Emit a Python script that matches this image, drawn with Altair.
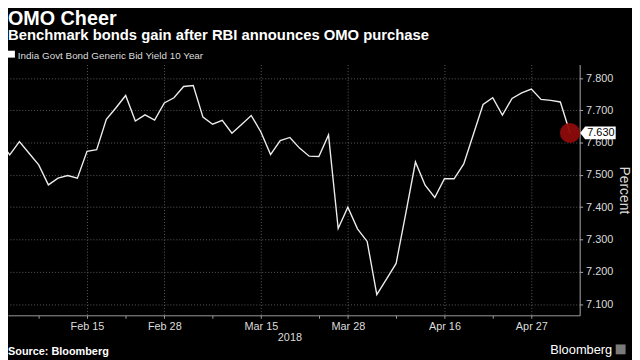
import json
import altair as alt
import pandas as pd

# ---- data ----
yields = [7.603, 7.562, 7.603, 7.567, 7.531, 7.469, 7.490, 7.498, 7.490, 7.573,
          7.578, 7.672, 7.708, 7.746, 7.667, 7.686, 7.670, 7.723, 7.739, 7.774,
          7.777, 7.679, 7.657, 7.669, 7.629, 7.656, 7.684, 7.633, 7.563, 7.606,
          7.616, 7.583, 7.558, 7.557, 7.624, 7.334, 7.400, 7.333, 7.294, 7.129,
          7.177, 7.226, 7.381, 7.540, 7.468, 7.430, 7.488, 7.488, 7.534, 7.626,
          7.718, 7.739, 7.685, 7.737, 7.754, 7.766, 7.734, 7.731, 7.726, 7.630]
trading_day = list(range(len(yields)))
major_ticks = [9, 17, 27, 36, 46, 55]
major_labels = ["Feb 15", "Feb 28", "Mar 15", "Mar 28", "Apr 16", "Apr 27"]
minor_ticks = [4, 13, 22, 33, 41, 51]
y_ticks = [7.1, 7.2, 7.3, 7.4, 7.5, 7.6, 7.7, 7.8]

title_text = "OMO Cheer"
subtitle_text = "Benchmark bonds gain after RBI announces OMO purchase"
legend_text = "India Govt Bond Generic Bid Yield 10 Year"
year_text = "2018"
source_text = "Source: Bloomberg"
brand_text = "Bloomberg"

PW, PH = 579, 254
FONT = "Liberation Sans"
GRID = "#5c5c5c"
AX = "#9a9a9a"
LAB = "#dcdcdc"

df = pd.DataFrame({"day": trading_day, "y": yields})
last = df.tail(1)

x_scale = alt.Scale(domain=[0.82, 60.0], nice=False, zero=False)
y_scale = alt.Scale(domain=[7.0651, 7.8419], nice=False, zero=False)

major_js = json.dumps(major_ticks)
labels_js = json.dumps(major_labels)
label_expr = f"{labels_js}[indexof({major_js}, datum.value)] || ''"
is_major = f"indexof({major_js}, datum.value) >= 0"

x_axis = alt.Axis(
    values=sorted(major_ticks + minor_ticks), labelExpr=label_expr, title=None,
    grid=True, gridOpacity={"condition": {"test": is_major, "value": 1}, "value": 0},
    gridColor=GRID, gridDash=[1, 2], gridWidth=1,
    domainColor=AX, tickColor=AX, tickSize=3,
    labelColor=LAB, labelFont=FONT, labelFontSize=11, labelPadding=2,
    labelFlush=False, labelOverlap=False)

y_axis = alt.Axis(
    orient="right", values=y_ticks, format=".3f", tickCount=8,
    grid=True, gridColor=GRID, gridDash=[1, 2], gridWidth=1,
    domainColor="#aaaaaa", tickColor="#aaaaaa", tickSize=3,
    labelColor=LAB, labelFont=FONT, labelFontSize=11, labelPadding=3,
    labelOverlap=False, labelFlush=False,
    title="Percent", titleAngle=90, titleFont=FONT, titleFontSize=14,
    titleFontWeight="normal", titleColor=LAB, titleX=44, titleY=PH / 2,
    titleBaseline="middle", titleAlign="center")

X = alt.X("day:Q", scale=x_scale, axis=x_axis)
Y = alt.Y("y:Q", scale=y_scale, axis=y_axis)

line = alt.Chart(df).mark_line(color="#ececec", strokeWidth=1.4, clip=True).encode(x=X, y=Y)

dot = alt.Chart(last).mark_circle(size=415, color="#8d0b0b", opacity=0.95).encode(x=X, y=Y)

BOX = "M -1 0 L -0.72 -0.36 L 1 -0.36 L 1 0.36 L -0.72 0.36 Z"
box = alt.Chart(last).mark_point(shape=BOX, filled=True, fill="white", strokeWidth=0,
                                 opacity=1, size=36 * 36).encode(
    x=alt.value(PW + 18.5), y=Y)
box_text = alt.Chart(last).mark_text(color="black", font=FONT, fontSize=11,
                                     align="center", baseline="middle").encode(
    x=alt.value(PW + 21.5), y=Y, text=alt.Text("y:Q", format=".3f"))


def note(text, x, y, size, weight="normal", align="left", color="white"):
    return alt.Chart(pd.DataFrame({"t": [text]})).mark_text(
        font=FONT, fontSize=size, fontWeight=weight, align=align,
        baseline="alphabetic", color=color).encode(
        x=alt.value(x), y=alt.value(y), text="t:N")


title = note(title_text, 0, -40, 20, "bold")
subtitle = note(subtitle_text, 0, -24.5, 15, "bold")
legend_sq = alt.Chart(pd.DataFrame({"t": [legend_text]})).mark_square(
    size=49, color="white", opacity=1).encode(x=alt.value(3.5), y=alt.value(-10.5))
legend_lab = note(legend_text, 10, -6, 10, color=LAB)
year = note(year_text, 285.5, 280, 11, align="center", color=LAB)
source = note(source_text, 0, 294, 11, "bold")
brand = note(brand_text, 612, 293.5, 13, align="right")
icon = alt.Chart(pd.DataFrame({"t": [brand_text]})).mark_square(
    size=100, color="#7a7a7a", opacity=1).encode(x=alt.value(620.5), y=alt.value(288.5))

chart = alt.layer(line, dot, box, box_text, title, subtitle, legend_sq, legend_lab,
                  year, source, brand, icon).properties(
    width=PW, height=PH, background="black",
    padding={"left": 0, "top": 55, "right": 53, "bottom": 43},
    autosize=alt.AutoSizeParams(type="none"),
).configure_view(strokeWidth=0)

chart.save("out.html", embed_options={"renderer": "svg", "actions": False})
